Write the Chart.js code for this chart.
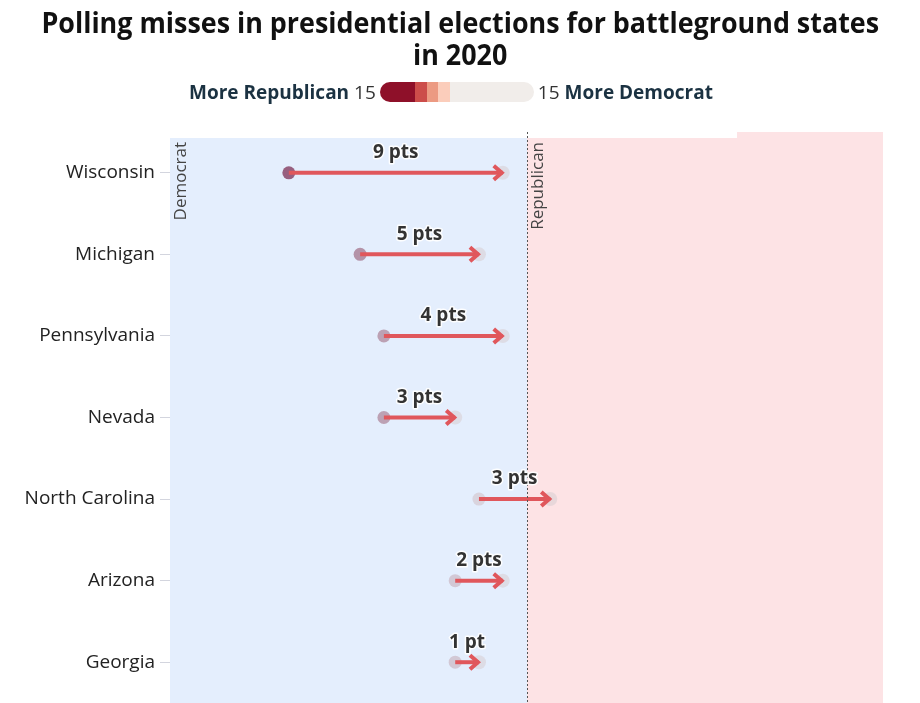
<!DOCTYPE html>
<html>
<head>
<meta charset="utf-8">
<script src="https://cdn.jsdelivr.net/npm/chart.js@4.4.0/dist/chart.umd.min.js"></script>
<style>
  html, body { margin: 0; padding: 0; background: #fff; }
  #wrap { position: relative; width: 920px; height: 703px; overflow: hidden; font-family: "Open Sans", sans-serif; }
  #title { position: absolute; left: 0; top: 6px; width: 920px; text-align: center; font-weight: 700; font-size: 28px; line-height: 32px; color: #111; }
  #title span { display: inline-block; white-space: nowrap; transform-origin: 50% 50%; }
  #legend { position: absolute; left: 189px; top: 79px; height: 26px; display: flex; align-items: center; font-size: 19px; color: #1b3242; white-space: nowrap; }
  #legend b { font-weight: 700; }
  #legend .num { color: #333; margin: 0 4px 0 5px; }
  #legend .num2 { color: #333; margin: 0 5px 0 4px; }
  #bar { width: 154px; height: 20px; border-radius: 10px; overflow: hidden; display: flex; }
  #bar div { height: 100%; }
  #cwrap { position: absolute; left: 0; top: 0; width: 920px; height: 703px; }
</style>
</head>
<body>
<div id="wrap">
  <div id="cwrap"><canvas id="c"></canvas></div>
  <div id="title"><span id="t1">Polling misses in presidential elections for battleground states</span><br><span id="t2">in 2020</span></div>
  <div id="legend"><b>More Republican</b><span class="num" id="lmin"></span><div id="bar"></div><span class="num2" id="lmax"></span><b>More Democrat</b></div>
</div>
<script>
// ---- data ----
const states = ['Wisconsin', 'Michigan', 'Pennsylvania', 'Nevada', 'North Carolina', 'Arizona', 'Georgia'];
const pollMargin = [-10, -7, -6, -6, -2, -3, -3];   // polling average (negative = Democrat side)
const resultMargin = [-1, -2, -1, -3, 1, -1, -2];   // actual result
const missLabels = ['9 pts', '5 pts', '4 pts', '3 pts', '3 pts', '2 pts', '1 pt'];
const sideLabels = ['Democrat', 'Republican'];
const xMin = -15, xMax = 15;
const legendMin = 15, legendMax = 15;
const legendSteps = [35, 12, 11, 12, 84]; // relative widths of the legend colour steps
const legendColors = ['#8e1029', '#cc4d4a', '#ec9a82', '#fbcdbb', '#f1edea'];

// ---- legend ----
document.getElementById('lmin').textContent = legendMin;
document.getElementById('lmax').textContent = legendMax;
const barEl = document.getElementById('bar');
const totalSteps = legendSteps.reduce((a, b) => a + b, 0);
legendSteps.forEach((w, i) => {
  const d = document.createElement('div');
  d.style.width = (w / totalSteps * 100) + '%';
  d.style.background = legendColors[i];
  barEl.appendChild(d);
});

// ---- title condense ----
const t1 = document.getElementById('t1');
const sx = 838 / t1.offsetWidth;
t1.style.transform = 'scaleX(' + sx + ')';
document.getElementById('t2').style.transform = 'scaleX(' + sx + ')';

// ---- chart ----
const ARROW = '#e0575c';
function startColor(v) {
  const t = Math.max(0, Math.min(1, (-v - 2) / 8));
  const r = Math.round(205 + (118 - 205) * t);
  const g = Math.round(185 + (34 - 185) * t);
  const b = Math.round(192 + (72 - 192) * t);
  const a = 0.5 + 0.2 * t;
  return `rgba(${r},${g},${b},${a})`;
}

const pollPoints = states.map((s, i) => ({ x: pollMargin[i], y: s }));
const resultPoints = states.map((s, i) => ({ x: resultMargin[i], y: s }));

const datasets = [
  {
    label: 'Result', data: resultPoints, showLine: false, order: 3,
    pointRadius: 7, pointHoverRadius: 7, pointBorderWidth: 0,
    pointBackgroundColor: 'rgba(215,205,210,0.55)'
  },
  {
    label: 'Poll', data: pollPoints, showLine: false, order: 2,
    pointRadius: 6.5, pointHoverRadius: 6.5, pointBorderWidth: 0,
    pointBackgroundColor: ctx => startColor(pollMargin[ctx.dataIndex] ?? 0)
  }
];
states.forEach((s, i) => {
  datasets.push({
    label: s, data: [pollPoints[i], resultPoints[i]], showLine: true, order: 1,
    borderColor: ARROW, borderWidth: 4, pointRadius: 0, pointHoverRadius: 0,
    borderCapStyle: 'butt', arrow: true, missLabel: missLabels[i]
  });
});

const decorPlugin = {
  id: 'decor',
  beforeDatasetsDraw(chart) {
    const { ctx, chartArea: a, scales: { x } } = chart;
    const x0 = Math.round(x.getPixelForValue(0));
    const xl = Math.round(x.getPixelForValue(xMin));
    const xr = Math.round(x.getPixelForValue(xMax));
    const gapEnd = Math.round(x.getPixelForValue(8.85));
    const top = Math.round(a.top), bot = Math.ceil(a.bottom);
    ctx.save();
    ctx.fillStyle = '#e4eefd';
    ctx.fillRect(xl, top + 6, x0 - xl, bot - top - 6);
    ctx.fillStyle = '#fde3e5';
    ctx.fillRect(x0, top + 6, xr - x0, bot - top - 6);
    ctx.fillRect(gapEnd, top, xr - gapEnd, 6);
    ctx.restore();
  },
  afterDatasetsDraw(chart) {
    const { ctx, chartArea: a, scales: { x } } = chart;
    const x0 = x.getPixelForValue(0);
    ctx.save();
    // arrowheads
    chart.data.datasets.forEach((ds, di) => {
      if (!ds.arrow) return;
      const meta = chart.getDatasetMeta(di);
      const p0 = meta.data[0], p1 = meta.data[1];
      const dir = Math.sign(p1.x - p0.x) || 1;
      ctx.strokeStyle = ARROW;
      ctx.lineWidth = 4;
      ctx.lineJoin = 'miter';
      ctx.lineCap = 'butt';
      ctx.beginPath();
      ctx.moveTo(p1.x - dir * 9, p1.y - 7);
      ctx.lineTo(p1.x - dir * 1, p1.y);
      ctx.lineTo(p1.x - dir * 9, p1.y + 7);
      ctx.stroke();
    });
    // dotted zero line
    ctx.strokeStyle = '#555';
    ctx.lineWidth = 1;
    ctx.setLineDash([2, 2]);
    ctx.beginPath();
    ctx.moveTo(Math.round(x0) + 0.5, a.top);
    ctx.lineTo(Math.round(x0) + 0.5, a.bottom);
    ctx.stroke();
    ctx.setLineDash([]);
    // side labels
    ctx.fillStyle = '#444';
    ctx.font = '17px "Open Sans", sans-serif';
    ctx.textAlign = 'right';
    ctx.textBaseline = 'middle';
    [[x.getPixelForValue(xMin) + 11, sideLabels[0]], [x0 + 12, sideLabels[1]]].forEach(([px, txt]) => {
      ctx.save();
      ctx.translate(px, a.top + 10);
      ctx.rotate(-Math.PI / 2);
      ctx.fillText(txt, 0, 0);
      ctx.restore();
    });
    // miss labels
    ctx.font = 'bold 19px "Open Sans", sans-serif';
    ctx.textAlign = 'center';
    ctx.textBaseline = 'middle';
    ctx.lineJoin = 'round';
    chart.data.datasets.forEach((ds, di) => {
      if (!ds.arrow) return;
      const meta = chart.getDatasetMeta(di);
      const p0 = meta.data[0], p1 = meta.data[1];
      const cx = (p0.x + p1.x) / 2, cy = p0.y - 20;
      ctx.strokeStyle = 'rgba(255,255,255,0.9)';
      ctx.lineWidth = 3;
      ctx.strokeText(ds.missLabel, cx, cy);
      ctx.fillStyle = '#333';
      ctx.fillText(ds.missLabel, cx, cy);
    });
    ctx.restore();
  }
};

new Chart(document.getElementById('c'), {
  type: 'line',
  data: { labels: states, datasets },
  options: {
    responsive: true,
    maintainAspectRatio: false,
    animation: false,
    layout: { autoPadding: false, padding: { top: 132, right: 37, bottom: 0, left: 0 } },
    plugins: { legend: { display: false }, tooltip: { enabled: false }, title: { display: false } },
    scales: {
      x: { type: 'linear', min: xMin, max: xMax, display: false },
      y: {
        type: 'category', labels: states, offset: true,
        border: { display: false },
        grid: { color: '#d3d5de', lineWidth: 1, drawTicks: true, tickLength: 10, offset: false },
        ticks: { color: '#222', font: { family: '"Open Sans", sans-serif', size: 19 }, padding: 5 },
        afterFit(scale) { scale.width = 170; scale.paddingTop = 0; scale.paddingBottom = 0; }
      }
    }
  },
  plugins: [decorPlugin]
});
</script>
</body>
</html>
